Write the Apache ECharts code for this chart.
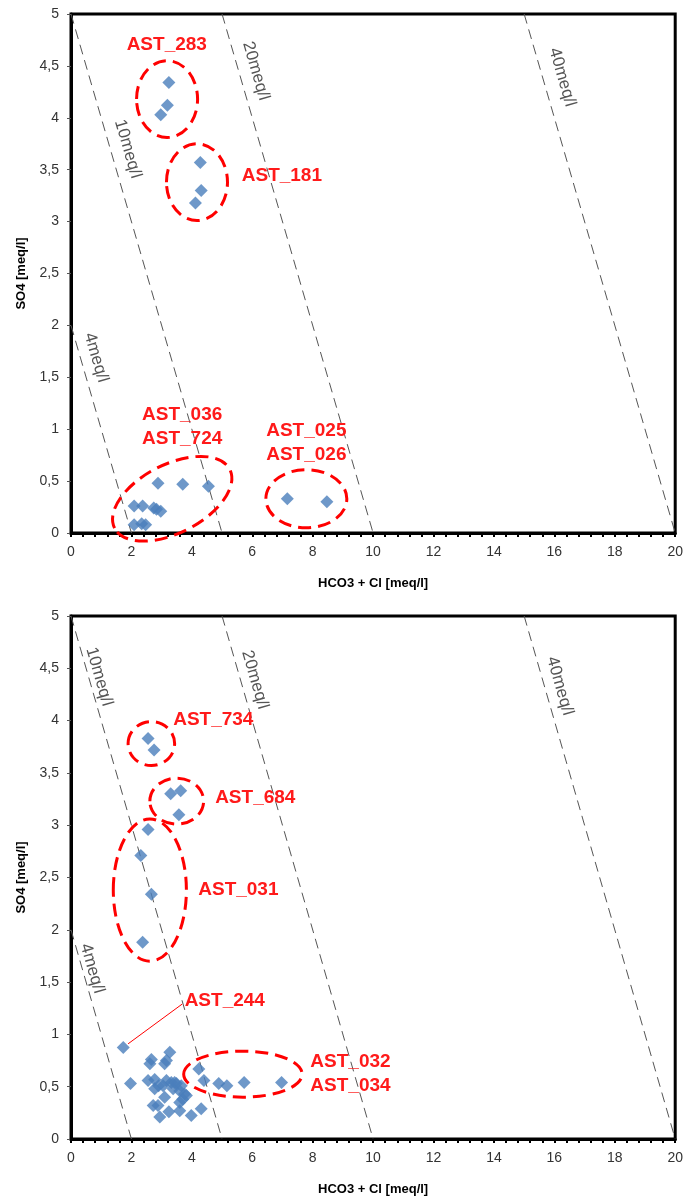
<!DOCTYPE html>
<html>
<head>
<meta charset="UTF-8">
<title>SO4 vs HCO3 + Cl</title>
<script src="https://cdn.jsdelivr.net/npm/echarts@6/dist/echarts.min.js"></script>
<style>
  html, body { margin: 0; padding: 0; background: #fff; }
  #main { width: 686px; height: 1197px; }
</style>
</head>
<body>
<div id="main"></div>
<script>
// ---- data ----
// upper chart
var topX = [3.24, 3.19, 2.97, 4.28, 4.31, 4.12,
            2.88, 3.70, 4.55, 2.09, 2.37, 2.74, 2.83, 2.97, 2.09, 2.34, 2.47,
            7.16, 8.47];
var topY = [4.34, 4.12, 4.03, 3.57, 3.30, 3.18,
            0.48, 0.47, 0.45, 0.26, 0.26, 0.24, 0.23, 0.21, 0.08, 0.09, 0.08,
            0.33, 0.30];
// lower chart
var botX = [2.55, 2.75, 3.30, 3.63, 3.57, 2.55, 2.31, 2.66, 2.37,
            1.73, 1.97,
            2.66, 2.61, 3.27, 3.16, 3.10, 2.55, 2.77, 2.77, 3.16, 3.32, 3.49, 3.65,
            3.05, 3.38, 3.60, 3.76, 3.10, 3.70, 3.60, 2.72, 2.88, 3.24, 3.60, 2.94,
            3.98, 4.31, 2.90, 3.43, 3.82,
            4.23, 4.40, 4.89, 5.16, 5.73, 6.97];
var botY = [3.83, 3.72, 3.30, 3.33, 3.10, 2.96, 2.71, 2.34, 1.88,
            0.875, 0.53,
            0.76, 0.72, 0.83, 0.75, 0.72, 0.56, 0.57, 0.48, 0.56, 0.54, 0.53, 0.51,
            0.51, 0.48, 0.46, 0.43, 0.40, 0.38, 0.35, 0.32, 0.32, 0.26, 0.27, 0.21,
            0.225, 0.29, 0.51, 0.54, 0.415,
            0.67, 0.56, 0.53, 0.51, 0.54, 0.54];

// total mineralisation lines (meq/l): HCO3 + Cl + SO4 = level / 2
var meqLevels = [4, 10, 20, 40];

// annotations (data coordinates)
var topGroups = [
  { name: 'AST_283', cx: 3.18, cy: 4.18, rx: 1.01, ry: 0.37, rot: 0, lx: 3.17, ly: 4.70 },
  { name: 'AST_181', cx: 4.17, cy: 3.38, rx: 1.01, ry: 0.37, rot: 0, lx: 6.98, ly: 3.44 },
  { name: 'AST_036\nAST_724', cx: 3.35, cy: 0.33, rx: 2.14, ry: 0.33, rot: 27, lx: 3.68, ly: 1.02 },
  { name: 'AST_025\nAST_026', cx: 7.79, cy: 0.33, rx: 1.34, ry: 0.28, rot: 0, lx: 7.79, ly: 0.87 }
];
var botGroups = [
  { name: 'AST_734', cx: 2.66, cy: 3.78, rx: 0.77, ry: 0.21, rot: 0, lx: 4.71, ly: 4.01 },
  { name: 'AST_684', cx: 3.50, cy: 3.23, rx: 0.89, ry: 0.22, rot: 0, lx: 6.10, ly: 3.26 },
  { name: 'AST_031', cx: 2.61, cy: 2.38, rx: 1.21, ry: 0.68, rot: 0, lx: 5.54, ly: 2.38 },
  { name: 'AST_032\nAST_034', cx: 5.69, cy: 0.62, rx: 1.96, ry: 0.22, rot: 0, lx: 9.25, ly: 0.62 },
  { name: 'AST_244', lx: 5.09, ly: 1.32, from: [1.89, 0.91], to: [3.68, 1.29] }
];
var topMeqLabels = [[0.83, 1.69], [1.88, 3.70], [6.12, 4.45], [16.26, 4.39]];
var botMeqLabels = [[0.70, 1.63], [0.93, 4.42], [6.09, 4.39], [16.18, 4.33]];

function pairs(xs, ys) {
  var out = [];
  for (var i = 0; i < xs.length; i++) out.push([xs[i], ys[i]]);
  return out;
}
function meqLine(level) {
  var s = level / 2;
  var a = s > 5 ? [s - 5, 5] : [0, s];
  return [a, [s, 0]];
}

var grids = [
  { left: 71, top: 14, width: 608, height: 519 },
  { left: 71, top: 616, width: 608, height: 526 }
];

function xAxisFor(i) {
  return {
    gridIndex: i, type: 'value', min: 0, max: 20, interval: 2,
    name: 'HCO3 + Cl [meq/l]', nameLocation: 'middle', nameGap: 44,
    nameTextStyle: { fontFamily: 'Liberation Sans', fontWeight: 'bold', fontSize: 13, color: '#000' },
    axisLine: { lineStyle: { color: '#000', width: 3 } },
    axisTick: { inside: false, length: 4, lineStyle: { color: '#000', width: 2 } },
    minorTick: { show: true, splitNumber: 5, length: 4, lineStyle: { color: '#000', width: 2 } },
    axisLabel: { fontFamily: 'Liberation Sans', fontSize: 14, color: '#333', margin: 12 },
    splitLine: { show: false }
  };
}
function yAxisFor(i) {
  return {
    gridIndex: i, type: 'value', min: 0, max: 5, interval: 0.5,
    name: 'SO4 [meq/l]', nameLocation: 'middle', nameGap: 43,
    nameTextStyle: { fontFamily: 'Liberation Sans', fontWeight: 'bold', fontSize: 13, color: '#000' },
    axisLine: { show: true, lineStyle: { color: '#000', width: 3 } },
    axisTick: { show: true, length: 4, lineStyle: { color: '#555', width: 1 } },
    axisLabel: {
      fontFamily: 'Liberation Sans', fontSize: 14, color: '#333', margin: 12,
      formatter: function (v) { return String(v).replace('.', ','); }
    },
    splitLine: { show: false }
  };
}

var series = [];
[0, 1].forEach(function (g) {
  meqLevels.forEach(function (lv) {
    series.push({
      type: 'line', xAxisIndex: g, yAxisIndex: g, data: meqLine(lv),
      symbol: 'none', silent: true, z: 1,
      lineStyle: { color: '#555', width: 1, type: [10, 6] }
    });
  });
});
series.push({
  type: 'scatter', xAxisIndex: 0, yAxisIndex: 0, data: pairs(topX, topY),
  symbol: 'diamond', symbolSize: 13, itemStyle: { color: '#4a7ebb' }, z: 5
});
series.push({
  type: 'scatter', xAxisIndex: 1, yAxisIndex: 1, data: pairs(botX, botY),
  symbol: 'diamond', symbolSize: 13, itemStyle: { color: '#4a7ebb' }, z: 5
});

var myChart = echarts.init(document.getElementById('main'));
myChart.setOption({
  animation: false,
  backgroundColor: '#fff',
  grid: grids.map(function (g) {
    return Object.assign({ show: true, borderColor: '#000', borderWidth: 3, backgroundColor: 'transparent' }, g);
  }),
  xAxis: [xAxisFor(0), xAxisFor(1)],
  yAxis: [yAxisFor(0), yAxisFor(1)],
  series: series
});

// annotations placed through the axes
function px(g, p) { return myChart.convertToPixel({ gridIndex: g }, p); }
var graphics = [];
function addGroups(g, groups) {
  groups.forEach(function (a) {
    if (a.rx !== undefined) {
      var c = px(g, [a.cx, a.cy]);
      var ex = px(g, [a.cx + a.rx, a.cy]);
      var ey = px(g, [a.cx, a.cy + a.ry]);
      graphics.push({
        type: 'ellipse', x: c[0], y: c[1], rotation: a.rot * Math.PI / 180, z: 10,
        shape: { cx: 0, cy: 0, rx: Math.abs(ex[0] - c[0]), ry: Math.abs(ey[1] - c[1]) },
        style: { fill: 'none', stroke: '#ff0000', lineWidth: 3, lineDash: [13, 7] }
      });
    }
    if (a.from) {
      var f = px(g, a.from), t = px(g, a.to);
      graphics.push({
        type: 'line', z: 10,
        shape: { x1: f[0], y1: f[1], x2: t[0], y2: t[1] },
        style: { stroke: '#ff0000', lineWidth: 1 }
      });
    }
    var l = px(g, [a.lx, a.ly]);
    graphics.push({
      type: 'text', x: l[0], y: l[1], z: 11,
      style: {
        text: a.name, fill: '#ff1a1a', font: 'bold 19px "Liberation Sans"',
        align: 'center', verticalAlign: 'middle', lineHeight: 24
      }
    });
  });
}
function addMeq(g, labels) {
  labels.forEach(function (p, i) {
    var line = meqLine(meqLevels[i]);
    var a = px(g, line[0]), b = px(g, line[1]);
    var ang = Math.atan2(b[1] - a[1], b[0] - a[0]);
    var c = px(g, p);
    graphics.push({
      type: 'text', x: c[0], y: c[1], rotation: -ang, z: 4,
      style: {
        text: meqLevels[i] + 'meq/l', fill: '#555', font: '17px "Liberation Sans"',
        align: 'center', verticalAlign: 'middle'
      }
    });
  });
}
addMeq(0, topMeqLabels);
addMeq(1, botMeqLabels);
addGroups(0, topGroups);
addGroups(1, botGroups);
myChart.setOption({ graphic: graphics });
</script>
</body>
</html>
